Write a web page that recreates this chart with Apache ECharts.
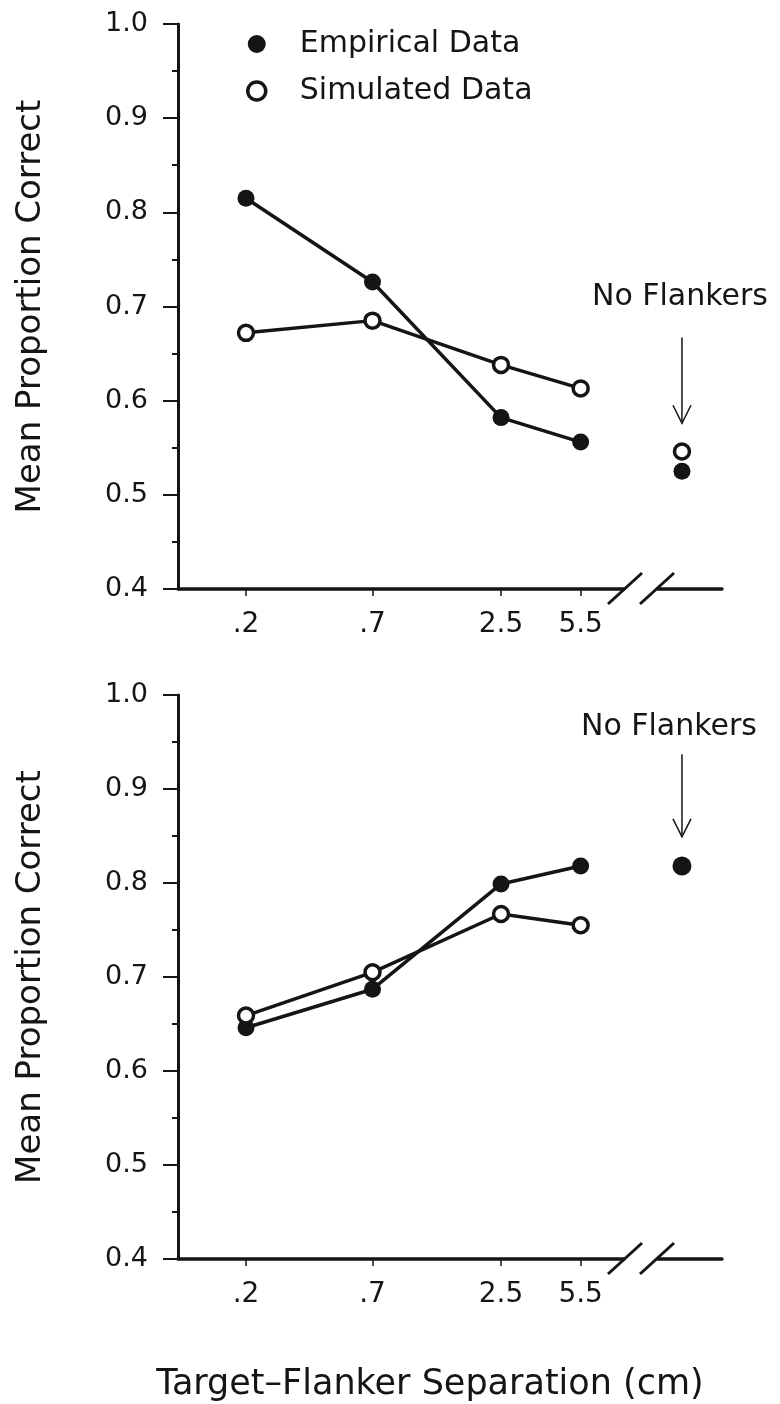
<!DOCTYPE html>
<html>
<head>
<meta charset="utf-8">
<title>Target-Flanker Separation</title>
<script src="https://cdn.jsdelivr.net/npm/echarts@6/dist/echarts.min.js"></script>
<style>
  html, body { margin: 0; padding: 0; background: #fff; }
  #main { width: 780px; height: 1404px; }
</style>
</head>
<body>
<div id="main"></div>
<script>
// separations in cm, shown on a log axis
var separations = [0.2, 0.7, 2.5, 5.5];
var separationLabels = ['.2', '.7', '2.5', '5.5'];
var noFlankerX = 15;   // spot past the axis break for the no-flanker condition
var breakX = 10;

// upper panel
var topEmpirical = [0.815, 0.726, 0.582, 0.556];
var topSimulated = [0.672, 0.685, 0.638, 0.613];
var topNoFlankEmpirical = [0.525];
var topNoFlankSimulated = [0.546];

// lower panel
var bottomEmpirical = [0.646, 0.687, 0.799, 0.818];
var bottomSimulated = [0.659, 0.705, 0.767, 0.755];
var bottomNoFlankEmpirical = [0.818];

var ink = '#151515';
var font = 'DejaVu Sans';

function pairs(xs, ys) {
    return xs.map(function (x, i) { return [x, ys[i]]; });
}

function xAxisFor(gi, withName) {
    var ax = {
        type: 'log', gridIndex: gi, logBase: 10, min: 0.102, max: 22.3,
        axisLine: { show: true, lineStyle: { color: ink, width: 3.5 } },
        axisTick: { show: true, customValues: separations, length: 7, lineStyle: { color: ink, width: 1.5 } },
        axisLabel: {
            customValues: separations, margin: 22, fontSize: 28, color: ink, fontFamily: font,
            formatter: function (v) {
                for (var i = 0; i < separations.length; i++) {
                    if (Math.abs(separations[i] - v) < 1e-6) return separationLabels[i];
                }
                return '';
            }
        },
        splitLine: { show: false },
        minorTick: { show: false }
    };
    if (withName) {
        ax.name = 'Target–Flanker Separation (cm)';
        ax.nameLocation = 'middle';
        ax.nameGap = 108;
        ax.nameTextStyle = { fontSize: 35, color: ink, fontFamily: font, padding: [0, 40, 0, 0] };
    }
    return ax;
}

function yAxisFor(gi) {
    return {
        type: 'value', gridIndex: gi, min: 0.4, max: 1.0, interval: 0.1,
        name: 'Mean Proportion Correct', nameLocation: 'middle', nameGap: 130,
        nameTextStyle: { fontSize: 34, color: ink, fontFamily: font },
        axisLine: { show: true, lineStyle: { color: ink, width: 3 } },
        axisTick: { show: true, length: 15, lineStyle: { color: ink, width: 2 } },
        minorTick: { show: true, splitNumber: 2, length: 6, lineStyle: { color: ink, width: 2 } },
        axisLabel: {
            margin: 30, fontSize: 27, color: ink, fontFamily: font,
            formatter: function (v) { return v.toFixed(1); }
        },
        splitLine: { show: false }
    };
}

var filled = { color: ink, borderWidth: 0, opacity: 1 };
var hollow = { color: '#fff', borderColor: ink, borderWidth: 3.5, opacity: 1 };

function panelSeries(gi, emp, sim, noEmp, noSim) {
    var out = [
        {
            name: 'Empirical Data', type: 'line', xAxisIndex: gi, yAxisIndex: gi,
            data: pairs(separations, emp), symbol: 'circle', symbolSize: 17,
            itemStyle: filled, lineStyle: { color: ink, width: 3.5 }, z: 3
        },
        {
            name: 'Simulated Data', type: 'line', xAxisIndex: gi, yAxisIndex: gi,
            data: pairs(separations, sim), symbol: 'circle', symbolSize: 15,
            itemStyle: hollow, lineStyle: { color: ink, width: 3.5 }, z: 4
        }
    ];
    if (noSim) {
        out.push({
            name: 'Simulated Data', type: 'scatter', xAxisIndex: gi, yAxisIndex: gi,
            data: noSim.map(function (v) { return [noFlankerX, v]; }),
            symbol: 'circle', symbolSize: 15, itemStyle: hollow, z: 4
        });
    }
    out.push({
        name: 'Empirical Data', type: 'scatter', xAxisIndex: gi, yAxisIndex: gi,
        data: noEmp.map(function (v) { return [noFlankerX, v]; }),
        symbol: 'circle', symbolSize: noSim ? 17 : 19, itemStyle: filled, z: 5
    });
    return out;
}

var chart = echarts.init(document.getElementById('main'));
chart.setOption({
    animation: false,
    backgroundColor: '#fff',
    textStyle: { fontFamily: font },
    grid: [
        { left: 178, right: 58, top: 24, height: 565 },
        { left: 178, right: 58, top: 695, height: 564 }
    ],
    legend: {
        orient: 'vertical', left: 241, top: 24, itemWidth: 18, itemHeight: 18, itemGap: 17,
        selectedMode: false,
        textStyle: { fontSize: 30, color: ink, fontFamily: font, padding: [0, 0, 0, 29] },
        data: [
            { name: 'Empirical Data', icon: 'circle', itemStyle: filled },
            { name: 'Simulated Data', icon: 'circle', itemStyle: hollow }
        ]
    },
    xAxis: [xAxisFor(0, false), xAxisFor(1, true)],
    yAxis: [yAxisFor(0), yAxisFor(1)],
    series: panelSeries(0, topEmpirical, topSimulated, topNoFlankEmpirical, topNoFlankSimulated)
        .concat(panelSeries(1, bottomEmpirical, bottomSimulated, bottomNoFlankEmpirical, null))
});

// "No Flankers" label, arrow and the axis break, placed through the axes
function px(gi, x, y) {
    return chart.convertToPixel({ xAxisIndex: gi, yAxisIndex: gi }, [x, y]);
}

var g = [];
function annotate(gi, textVal, arrowFrom, arrowTo, textShift) {
    var t = px(gi, noFlankerX, textVal);
    var a = px(gi, noFlankerX, arrowFrom);
    var b = px(gi, noFlankerX, arrowTo);
    g.push({
        type: 'text', z: 100, x: t[0] + textShift, y: t[1],
        style: { text: 'No Flankers', fontSize: 30, fontFamily: font, fill: ink,
                 textAlign: 'center', textVerticalAlign: 'middle', align: 'center', verticalAlign: 'middle' }
    });
    g.push({ type: 'line', z: 100, shape: { x1: a[0], y1: a[1], x2: b[0], y2: b[1] },
             style: { stroke: ink, lineWidth: 1.5 } });
    g.push({ type: 'polyline', z: 100,
             shape: { points: [[b[0] - 9, b[1] - 18], [b[0], b[1]], [b[0] + 9, b[1] - 18]] },
             style: { stroke: ink, lineWidth: 1.5, fill: null } });

    var k = px(gi, breakX, 0.4);
    g.push({ type: 'rect', z: 100, shape: { x: k[0] - 16, y: k[1] - 6, width: 32, height: 12 },
             style: { fill: '#fff' } });
    [-16, 16].forEach(function (d) {
        g.push({ type: 'line', z: 101,
                 shape: { x1: k[0] + d - 17, y1: k[1] + 15, x2: k[0] + d + 17, y2: k[1] - 16 },
                 style: { stroke: ink, lineWidth: 3 } });
    });
}
annotate(0, 0.710, 0.667, 0.576, -2);
annotate(1, 0.966, 0.937, 0.849, -13);
chart.setOption({ graphic: g });
</script>
</body>
</html>
